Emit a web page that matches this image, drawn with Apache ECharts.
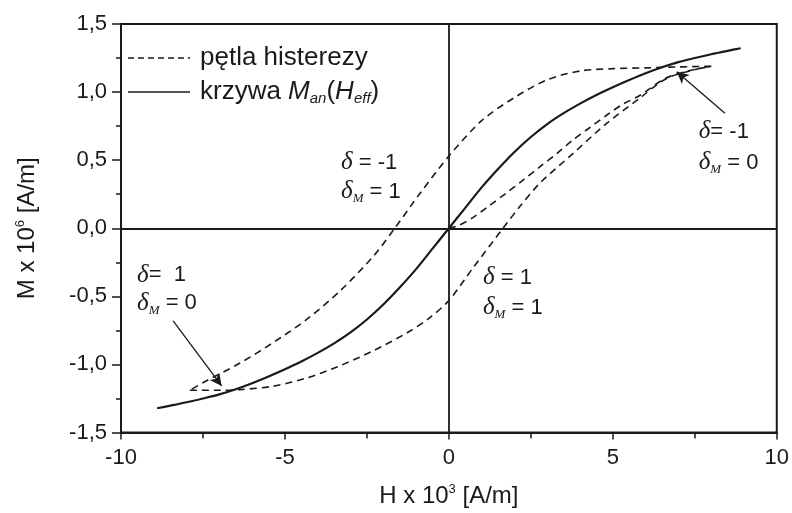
<!DOCTYPE html>
<html>
<head>
<meta charset="utf-8">
<script src="https://cdn.jsdelivr.net/npm/echarts@6/dist/echarts.min.js"></script>
<style>
  html, body { margin: 0; padding: 0; background: #fff; }
  #main { width: 792px; height: 513px; }
</style>
</head>
<body>
<div id="main"></div>
<script>
// krzywa bezhisterezowa M_an(H_eff)
var anhH = [-8.9, -8.5, -8, -7.5, -7, -6.5, -6, -5.5, -5, -4.5, -4, -3.5, -3, -2.5, -2, -1.5, -1, -0.5,
            0, 0.5, 1, 1.5, 2, 2.5, 3, 3.5, 4, 4.5, 5, 5.5, 6, 6.5, 7, 7.5, 8, 8.5, 8.9];
var anhM = [-1.322, -1.303, -1.278, -1.25, -1.22, -1.182, -1.138, -1.088, -1.035, -0.978, -0.915, -0.845,
            -0.765, -0.67, -0.56, -0.435, -0.3, -0.15,
            0, 0.15, 0.3, 0.435, 0.56, 0.67, 0.765, 0.845, 0.915, 0.978, 1.035, 1.088, 1.138, 1.182,
            1.22, 1.25, 1.278, 1.303, 1.322];

// krzywa pierwotna
var initH = [0, 0.3, 0.74, 1.2, 1.76, 2.3, 2.77, 3.3, 3.79, 4.3, 4.81, 5.3, 5.82, 6.6, 7.3, 7.9];
var initM = [0, 0.02, 0.08, 0.16, 0.26, 0.36, 0.45, 0.55, 0.65, 0.74, 0.83, 0.91, 0.975, 1.1, 1.155, 1.185];

// galaz opadajaca petli
var descH = [8.0, 7.0, 6.0, 5.0, 4.0, 3.0, 2.0, 1.0, 0, -0.9, -1.65, -2.31, -3.32, -4.34, -5.36, -6.37, -7.39, -7.9];
var descM = [1.19, 1.185, 1.178, 1.172, 1.155, 1.09, 0.96, 0.79, 0.53, 0.25, 0, -0.207, -0.46, -0.67, -0.84, -0.99, -1.12, -1.19];

// galaz narastajaca petli
var ascH = [-7.9, -7.0, -6.37, -5.36, -4.34, -3.32, -2.31, -1.29, -0.6, 0, 0.74, 1.65, 2.2, 2.77, 3.79, 4.81, 5.82, 6.64, 7.55, 8.0];
var ascM = [-1.19, -1.19, -1.185, -1.16, -1.10, -1.01, -0.90, -0.77, -0.66, -0.53, -0.29, 0, 0.17, 0.33, 0.55, 0.77, 0.955, 1.1, 1.168, 1.19];

// strzalki: [od, do] w jednostkach osi
var arrows = [
    [[8.42, 0.845], [6.95, 1.15]],
    [[-8.41, -0.68], [-6.93, -1.158]]
];

// opisy delta
var notes = [
    { at: [-3.29, 0.48], text: '{d|δ} {t|= -1}' },
    { at: [-3.29, 0.268], text: '{d|δ}{s|M}{t| = 1}' },
    { at: [7.62, 0.708], text: '{d|δ}{t|= -1}' },
    { at: [7.62, 0.48], text: '{d|δ}{s|M}{t| = 0}' },
    { at: [1.04, -0.363], text: '{d|δ} {t|= 1}' },
    { at: [1.04, -0.583], text: '{d|δ}{s|M}{t| = 1}' },
    { at: [-9.51, -0.345], text: '{d|δ}{t|=  1}' },
    { at: [-9.51, -0.55], text: '{d|δ}{s|M}{t| = 0}' }
];

var xTicks = { min: -10, max: 10, step: 5 };
var yTicks = { min: -1.5, max: 1.5, step: 0.5 };

function pairs(hs, ms) {
    return hs.map(function (h, i) { return [h, ms[i]]; });
}

var ink = '#1a1a1a';
var sans = 'Liberation Sans';
var serif = 'Liberation Serif';

var chart = echarts.init(document.getElementById('main'));

var dashed = { color: ink, width: 1.6, type: [7, 5] };

chart.setOption({
    animation: false,
    backgroundColor: '#fff',
    grid: {
        left: 121, right: 15, top: 24, bottom: 80,
        show: true, borderColor: ink, borderWidth: 2
    },
    xAxis: {
        type: 'value',
        min: xTicks.min, max: xTicks.max, interval: xTicks.step,
        axisLine: { onZero: false, lineStyle: { color: ink, width: 2 } },
        axisTick: { show: true, inside: false, length: 7, lineStyle: { color: ink, width: 1.5 } },
        minorTick: { show: true, splitNumber: 2, length: 6, lineStyle: { color: ink, width: 1.5 } },
        splitLine: { show: false },
        axisLabel: { color: ink, fontFamily: sans, fontSize: 22, margin: 14 },
        name: 'H x 10{sup|3} [A/m]',
        nameLocation: 'middle',
        nameGap: 50,
        nameTextStyle: {
            color: ink, fontFamily: sans, fontSize: 24,
            rich: { sup: { fontFamily: sans, fontSize: 13, padding: [0, 0, 14, 0] } }
        }
    },
    yAxis: {
        type: 'value',
        min: yTicks.min, max: yTicks.max, interval: yTicks.step,
        axisLine: { onZero: false, lineStyle: { color: ink, width: 2 } },
        axisTick: { show: true, inside: false, length: 9, lineStyle: { color: ink, width: 1.5 } },
        minorTick: { show: true, splitNumber: 2, length: 5, lineStyle: { color: ink, width: 1.5 } },
        splitLine: { show: false },
        axisLabel: {
            color: ink, fontFamily: sans, fontSize: 22, margin: 14,
            formatter: function (v) { return v.toFixed(1).replace('.', ','); }
        },
        name: 'M x 10{sup|6} [A/m]',
        nameLocation: 'middle',
        nameGap: 80,
        nameTextStyle: {
            color: ink, fontFamily: sans, fontSize: 24,
            rich: { sup: { fontFamily: sans, fontSize: 13, padding: [0, 0, 14, 0] } }
        }
    },
    series: [
        {
            name: 'krzywa',
            type: 'line',
            data: pairs(anhH, anhM),
            smooth: 0.3,
            showSymbol: false,
            lineStyle: { color: ink, width: 2.2 },
            z: 3,
            markLine: {
                silent: true,
                symbol: 'none',
                label: { show: false },
                lineStyle: { color: ink, width: 1.8, type: 'solid' },
                data: [{ xAxis: 0 }, { yAxis: 0 }]
            }
        },
        {
            name: 'opadajaca',
            type: 'line',
            data: pairs(descH, descM),
            smooth: 0.3,
            showSymbol: false,
            lineStyle: dashed
        },
        {
            name: 'narastajaca',
            type: 'line',
            data: pairs(ascH, ascM),
            smooth: 0.3,
            showSymbol: false,
            lineStyle: dashed
        },
        {
            name: 'pierwotna',
            type: 'line',
            data: pairs(initH, initM),
            smooth: 0.3,
            showSymbol: false,
            lineStyle: dashed,
            markLine: {
                silent: true,
                symbol: ['none', 'arrow'],
                symbolSize: [9, 12],
                label: { show: false },
                lineStyle: { color: ink, width: 1.3, type: 'solid' },
                data: arrows.map(function (a) {
                    return [{ coord: a[0] }, { coord: a[1] }];
                })
            }
        }
    ]
});

// legenda i opisy
var noteRich = {
    d: { fontFamily: serif, fontStyle: 'italic', fontSize: 25, fill: ink },
    t: { fontFamily: sans, fontSize: 22, fill: ink },
    s: { fontFamily: serif, fontStyle: 'italic', fontSize: 13, fill: ink, padding: [14, 0, 0, 0] }
};
var legendRich = {
    i: { fontFamily: sans, fontStyle: 'italic', fontSize: 26, fill: ink },
    sub: { fontFamily: sans, fontStyle: 'italic', fontSize: 15, fill: ink, padding: [14, 0, 0, 0] }
};

var graphics = [
    { type: 'line', shape: { x1: 128, y1: 58, x2: 190, y2: 58 },
      style: { stroke: ink, lineWidth: 1.5, lineDash: [6, 4] } },
    { type: 'line', shape: { x1: 128, y1: 92, x2: 190, y2: 92 },
      style: { stroke: ink, lineWidth: 1.5 } },
    { type: 'text', x: 200, y: 58,
      style: { text: 'pętla histerezy', font: '26px "Liberation Sans"', fill: ink, verticalAlign: 'middle' } },
    { type: 'text', x: 200, y: 92,
      style: { text: 'krzywa {i|M}{sub|an}({i|H}{sub|eff})', fontFamily: sans, fontSize: 26, fill: ink,
               verticalAlign: 'middle', rich: legendRich } }
];

notes.forEach(function (n) {
    var p = chart.convertToPixel({ gridIndex: 0 }, n.at);
    graphics.push({
        type: 'text', x: p[0], y: p[1],
        style: { text: n.text, fontFamily: sans, fontSize: 22, fill: ink, verticalAlign: 'middle', rich: noteRich }
    });
});

chart.setOption({ graphic: graphics });
</script>
</body>
</html>
